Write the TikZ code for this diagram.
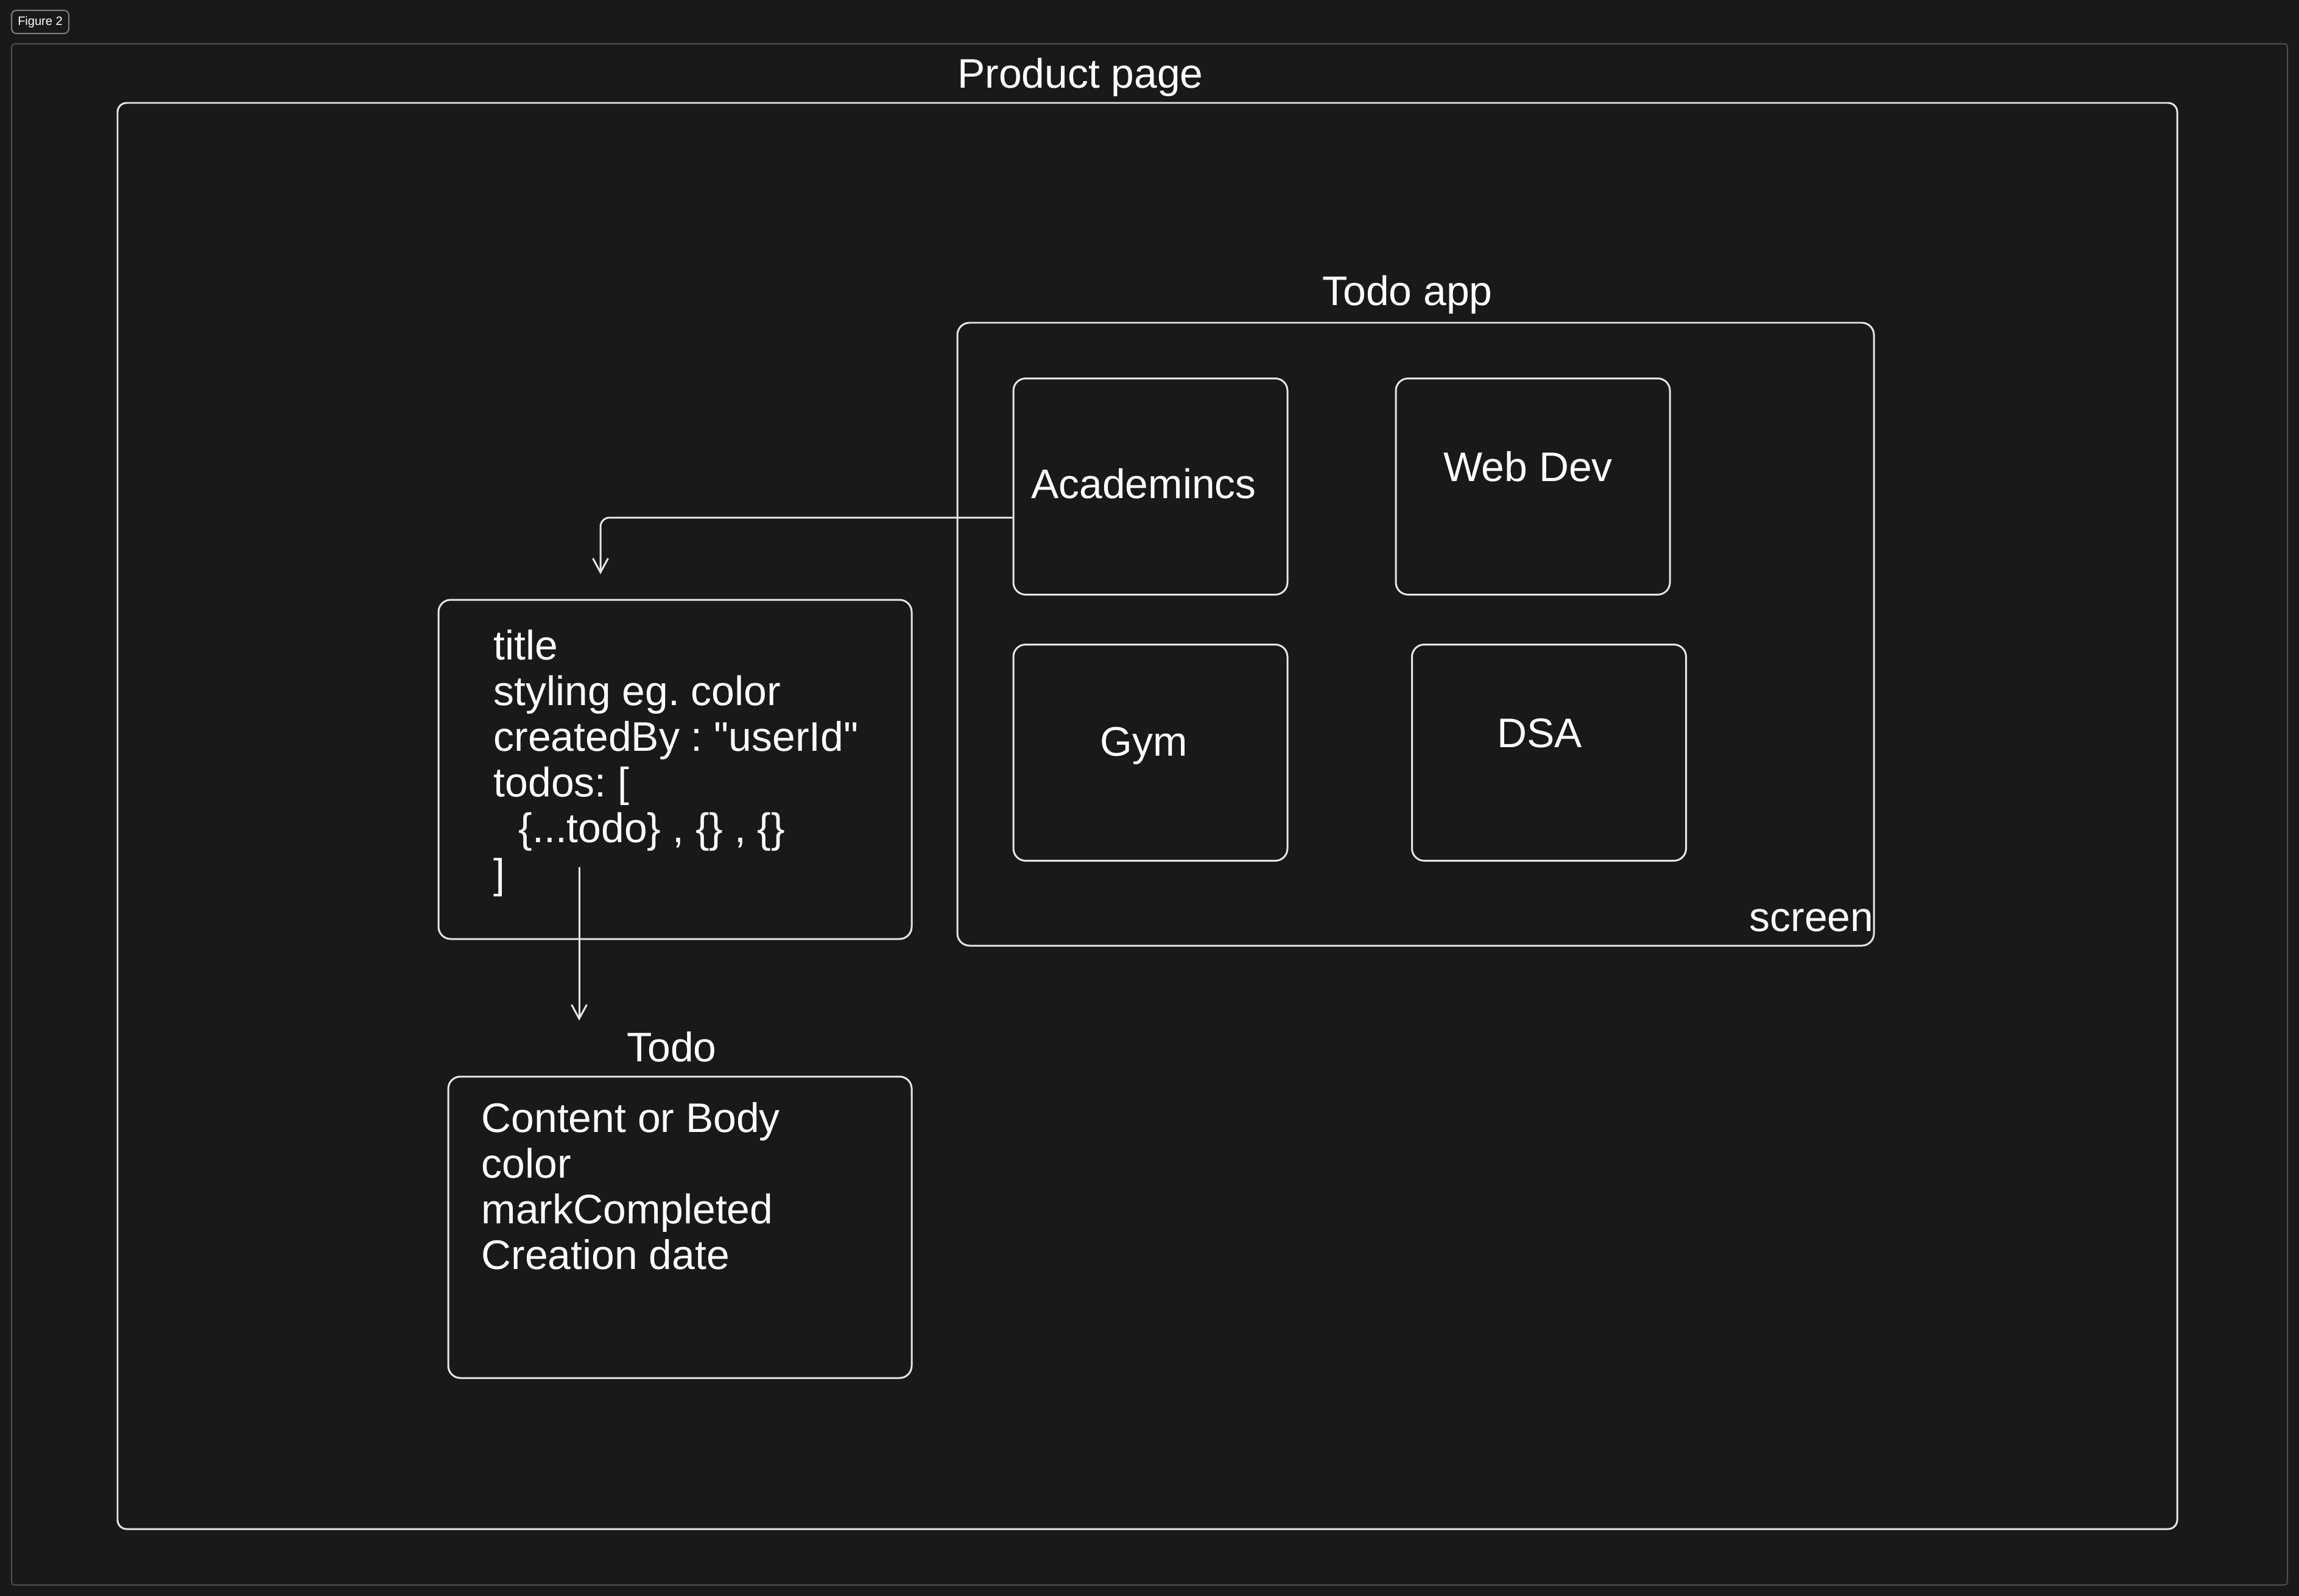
\documentclass[tikz,border=0pt]{standalone}
\usepackage{fontspec}
\setmainfont{Liberation Sans}
\usetikzlibrary{positioning, arrows.meta}

\definecolor{bgdark}{HTML}{191919}
\definecolor{framegray}{HTML}{4B4D51}
\definecolor{tabgray}{HTML}{7C7C7C}
\definecolor{chalk}{HTML}{E6E6E6}

\begin{document}
\frenchspacing
\begin{tikzpicture}[x=1cm, y=-1cm, on grid, >={Straight Barb[length=0.23cm, width=0.25cm]},
	box/.style={draw=chalk, line width=0.85pt, rounded corners=0.2cm, inner sep=0pt},
	catbox/.style={box, minimum width=4.5cm, minimum height=3.55cm},
	lbl/.style={text=white, inner sep=0pt, font=\fontsize{19.3pt}{21.3pt}\selectfont},
	listing/.style={lbl, align=left, anchor=base west},
	link/.style={->, draw=chalk, line width=0.85pt}]
	\path[use as bounding box, fill=bgdark] (0,0) rectangle (37.75,26.21);
	
	% figure frame and its tab
	\draw[framegray, line width=0.6pt, rounded corners=0.05cm] (0.19,0.72) rectangle (37.56,26.03);
	\node[draw=tabgray, line width=0.6pt, rounded corners=0.08cm, minimum width=0.94cm, minimum height=0.38cm, inner sep=0pt, text=white, font=\fontsize{5.7pt}{6.5pt}\selectfont] (tab) at (0.66,0.36) {Figure 2};
	
	% product page
	\node[box, rounded corners=0.15cm, minimum width=33.82cm, minimum height=23.42cm] (page) at (18.84,13.40) {};
	\node[lbl] (pagetitle) at (17.74,1.27) {Product page};
	
	% todo app screen
	\node[box, minimum width=15.05cm, minimum height=10.23cm] (app) at (23.245,10.415) {};
	\node[lbl] (apptitle) at (23.11,4.84) {Todo app};
	\node[lbl, anchor=east] (screen) at (30.77,15.12) {screen};
	
	\node[catbox] (acad) at (18.89,7.99) {};
	\node[catbox] (web) [right=6.28cm of acad] {};
	\node[catbox] (gym) [below=4.37cm of acad] {};
	\node[catbox] (dsa) [right=6.545cm of gym] {};
	
	\node[lbl] (acadtxt) at (18.78,7.94) {Academincs};
	\node[lbl] (webtxt) at (25.09,7.66) {Web Dev};
	\node[lbl] (gymtxt) at (18.78,12.25) {Gym};
	\node[lbl] (dsatxt) at (25.28,12.04) {DSA};
	
	% category fields (base = last line)
	\node[box, minimum width=7.77cm, minimum height=5.57cm] (fields) at (11.085,12.635) {};
	\node[listing] (fieldstxt) at (8.10,14.58) {title\\
		styling eg. color\\
		createdBy : \textquotedbl userId\textquotedbl\\
		todos: [\\
		\hspace*{0.41cm}\{...todo\} , \{\} , \{\}\\
		]};
	
	% single todo
	\node[box, minimum width=7.61cm, minimum height=4.95cm] (todo) at (11.165,20.155) {};
	\node[lbl] (todotitle) at (11.03,17.19) {Todo};
	\node[listing] (todotxt) at (7.90,20.84) {Content or Body\\
		color\\
		markCompleted\\
		Creation date};
	
	\coordinate (fieldsin) at (9.86,9.43);
	\coordinate (todosout) at (9.51,14.24);
	\coordinate (todoin) at (9.51,16.76);
	
	\draw[link, rounded corners=0.15cm] ([yshift=-0.51cm]acad.west) -| (fieldsin);
	\draw[link] (todosout) -- (todoin);
	
\end{tikzpicture}
\end{document}
